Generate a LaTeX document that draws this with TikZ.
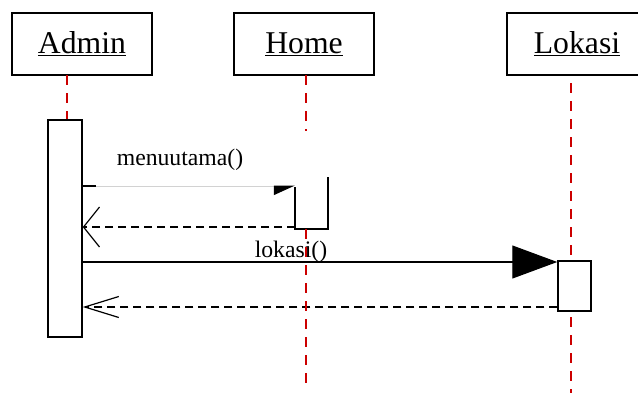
\documentclass[tikz,border=0pt]{standalone}
\usepackage{fontspec}
\setmainfont{Liberation Serif}
\usetikzlibrary{arrows.meta}
\tikzset{
  obj/.style={draw, line width=1.5pt, minimum width=140pt, minimum height=62pt, inner sep=0pt, font=\fontsize{31.7}{34}\selectfont},
  life/.style={draw=red!80!black, line width=2.5pt, dash pattern=on 10pt off 8pt},
  actbox/.style={draw, fill=white, line width=1.5pt, inner sep=0pt},
  ret/.style={line width=1.2pt, dash pattern=on 8pt off 5pt},
  msg/.style={font=\fontsize{23.7}{26}\selectfont}
}
\begin{document}
\begin{tikzpicture}[x=1pt, y=-1pt]
    \useasboundingbox (0,0) rectangle (638,394);
    % objects
    \node[obj] (admin) at (82,44) {\underline{Admin}};
    \node[obj] (home) at (304,44) {\underline{Home}};
    \node[obj] (lokasi) at (577,44) {\underline{Lokasi}};
    % lifelines
    \draw[life] (67,75) -- (67,120);
    \draw[life] (306,75) -- (306,131);
    \draw[life] (571,83) -- (571,393);
    % activations
    \node[actbox, minimum width=34pt, minimum height=217pt] (adminact) at (65,228.5) {};
    \node[actbox, minimum width=33pt, minimum height=50pt] (lokasiact) at (574.5,286) {};
    \coordinate (homeA) at (295,187);
    \coordinate (homeB) at (295,229);
    \coordinate (homeC) at (328,229);
    \coordinate (homeD) at (328,177);
    \draw[line width=1.5pt] (homeA) -- (homeB) -- (homeC) -- (homeD);
    % messages
    \coordinate (y1) at (0,186);
    \coordinate (y2) at (0,227);
    \coordinate (y3) at (0,262);
    \coordinate (y4) at (0,307);
    \draw[gray!35, line width=1pt, -{Triangle[right, length=20pt, width=18pt, color=black]}] (adminact.east |- y1) -- (homeA |- y1);
    \draw[line width=1.5pt] (adminact.east |- y1) -- ++(13,0);
    \node[msg] (m1) at (180,160) {menuutama()};
    \draw[ret, -{Straight Barb[length=16pt, width=40pt]}] (homeB |- y2) -- (adminact.east |- y2);
    \draw[line width=1.2pt, -{Triangle[length=45pt, width=33pt]}] (adminact.east |- y3) -- (lokasiact.west |- y3);
    \node[msg] (m2) at (291,252) {lokasi()};
    \draw[ret, -{Straight Barb[length=34pt, width=21pt]}] (lokasiact.west |- y4) -- (adminact.east |- y4);
    \draw[life] (306,229) -- (306,383);
\end{tikzpicture}
\end{document}
